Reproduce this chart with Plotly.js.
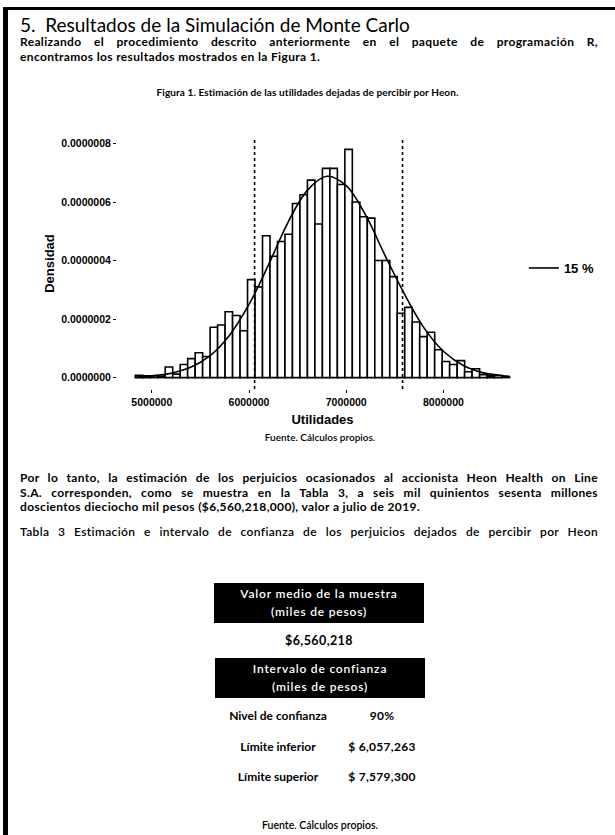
<!DOCTYPE html>
<html>
<head>
<meta charset="utf-8">
<script src="https://cdn.plot.ly/plotly-3.0.1.min.js"></script>
<style>
  body { margin: 0; background: #fff; }
  #page { position: relative; width: 615px; height: 835px; overflow: hidden; background: #fff;
          font-family: Lato, "Open Sans", "DejaVu Sans", sans-serif; color: #000; }
  .abs { position: absolute; }
  .jline { position: absolute; left: 20px; width: 578px; font-size: 12px; font-weight: 700; letter-spacing: 0.35px;
           line-height: 14px; height: 14px; text-align: justify; text-align-last: justify; white-space: nowrap; }
  .lastline { text-align-last: left; }
  .center { text-align: center; }
  .box { position: absolute; background: #000; color: #fff; text-align: center; font-size: 12px;
         letter-spacing: 0.8px; line-height: 18px; padding-top: 2px; box-sizing: border-box; font-weight: 600; }
  .row { position: absolute; font-size: 12px; font-weight: 700; line-height: 14px; height: 14px; text-align: center; white-space: nowrap; }
  #chart { position: absolute; left: 0; top: 100px; width: 615px; height: 350px; }
</style>
</head>
<body>
<div id="page">
  <div class="abs" style="left:3px;top:7px;width:612px;height:3px;background:#000"></div>
  <div class="abs" style="left:3px;top:7px;width:5px;height:828px;background:#000"></div>

  <div class="abs" style="left:20px;top:14px;font-size:19px;line-height:22px;">5.&nbsp; Resultados de la Simulación de Monte Carlo</div>
  <div class="jline" style="top:35px">Realizando el procedimiento descrito anteriormente en el paquete de programación R,</div>
  <div class="jline lastline" style="top:50px">encontramos los resultados mostrados en la Figura 1.</div>

  <div class="abs center" style="left:0;width:615px;top:86px;font-size:10px;font-weight:700;line-height:12px;letter-spacing:0.1px;">Figura 1. Estimación de las utilidades dejadas de percibir por Heon.</div>

  <div id="chart"></div>

  <div class="abs center" style="left:20px;width:600px;top:431px;font-size:10px;font-weight:600;line-height:12px;">Fuente. Cálculos propios.</div>

  <div class="jline" style="top:471px">Por lo tanto, la estimación de los perjuicios ocasionados al accionista Heon Health on Line</div>
  <div class="jline" style="top:486px">S.A. corresponden, como se muestra en la Tabla 3, a seis mil quinientos sesenta millones</div>
  <div class="jline lastline" style="top:500px">doscientos dieciocho mil pesos ($6,560,218,000), valor a julio de 2019.</div>

  <div class="jline" style="top:525px;font-weight:600;">Tabla 3 Estimación e intervalo de confianza de los perjuicios dejados de percibir por Heon</div>

  <div id="table"></div>
</div>

<script>
// ---------- chart data ----------
const binFirstCenter = 4868500;   // centre of first histogram bin
const binWidth = 77000;           // histogram bin width
const densities = [
  0.08e-7, 0.06e-7, 0.02e-7, 0.05e-7, 0.36e-7, 0.12e-7, 0.45e-7, 0.65e-7, 0.85e-7, 0.72e-7,
  1.72e-7, 1.80e-7, 2.25e-7, 2.12e-7, 1.60e-7, 3.35e-7, 3.10e-7, 4.85e-7, 4.15e-7, 4.65e-7,
  4.90e-7, 5.95e-7, 6.25e-7, 6.75e-7, 5.25e-7, 7.15e-7, 7.15e-7, 6.60e-7, 7.80e-7, 6.00e-7,
  5.50e-7, 5.45e-7, 4.00e-7, 4.00e-7, 3.45e-7, 2.20e-7, 2.40e-7, 1.90e-7, 1.40e-7, 1.55e-7,
  0.95e-7, 0.55e-7, 0.45e-7, 0.58e-7, 0.20e-7, 0.30e-7, 0.10e-7, 0.06e-7, 0.07e-7, 0.03e-7
];
const curveX = [4830000, 5000000, 5200000, 5400000, 5600000, 5800000, 6000000, 6200000, 6400000, 6600000,
                6800000, 7000000, 7200000, 7400000, 7600000, 7800000, 8000000, 8200000, 8400000, 8600000, 8680000];
const curveY = [0.02e-7, 0.06e-7, 0.15e-7, 0.35e-7, 0.75e-7, 1.45e-7, 2.50e-7, 3.85e-7, 5.30e-7, 6.40e-7,
                6.88e-7, 6.56e-7, 5.55e-7, 4.17e-7, 2.85e-7, 1.70e-7, 0.90e-7, 0.42e-7, 0.17e-7, 0.07e-7, 0.04e-7];
const curveName = "15 %";
const intervalBounds = [6057263, 7579300];
const xTickVals = [5000000, 6000000, 7000000, 8000000];
const xTickText = ["5000000", "6000000", "7000000", "8000000"];
const yTickVals = [0, 2e-7, 4e-7, 6e-7, 8e-7];
const yTickText = ["0.0000000", "0.0000002", "0.0000004", "0.0000006", "0.0000008"];

// ---------- table data ----------
const tableHeader1 = ["Valor medio de la muestra", "(miles de pesos)"];
const tableMean = "$6,560,218";
const tableHeader2 = ["Intervalo de confianza", "(miles de pesos)"];
const tableRowLabels = ["Nivel de confianza", "Límite inferior", "Límite superior"];
const tableRowValues = ["90%", "$ 6,057,263", "$ 7,579,300"];
const tableSource = "Fuente. Cálculos propios.";

const tickFont = { family: "Liberation Sans, Arial, sans-serif", size: 10.5, color: "#000", weight: "bold" };

const traces = [
  {
    type: "bar", x0: binFirstCenter, dx: binWidth, y: densities,
    marker: { color: "#fff", line: { color: "#000", width: 1.6 } },
    showlegend: false, hoverinfo: "skip"
  },
  {
    type: "scatter", mode: "lines", x: curveX, y: curveY, name: curveName,
    line: { color: "#000", width: 1.6, shape: "spline" }, showlegend: true
  }
];

const layout = {
  width: 615, height: 350,
  margin: { l: 117, r: 87, t: 38, b: 61 },
  paper_bgcolor: "rgba(0,0,0,0)", plot_bgcolor: "rgba(0,0,0,0)",
  bargap: 0,
  showlegend: true,
  legend: { x: 0.99, xanchor: "left", y: 0.482, yanchor: "middle",
            font: { family: "Liberation Sans, Arial, sans-serif", size: 13, color: "#000", weight: "bold" },
            bgcolor: "rgba(0,0,0,0)" },
  xaxis: {
    range: [4642000, 8870000], showgrid: false, zeroline: false, showline: false,
    tickmode: "array", tickvals: xTickVals, ticktext: xTickText,
    ticks: "outside", ticklen: 3, tickcolor: "#000", tickfont: tickFont,
    title: { text: "Utilidades", standoff: 8,
             font: { family: "Liberation Sans, Arial, sans-serif", size: 13, color: "#000", weight: "bold" } }
  },
  yaxis: {
    range: [-0.39e-7, 8.19e-7], showgrid: false, zeroline: false, showline: false,
    tickmode: "array", tickvals: yTickVals, ticktext: yTickText,
    ticks: "outside", ticklen: 3, tickcolor: "#000", tickfont: tickFont,
    title: { text: "Densidad", standoff: 3,
             font: { family: "Liberation Sans, Arial, sans-serif", size: 13, color: "#000", weight: "bold" } }
  },
  shapes: intervalBounds.map(v => ({
    type: "line", xref: "x", yref: "paper", x0: v, x1: v, y0: 0, y1: 1,
    line: { color: "#000", width: 1.6, dash: "dot" }
  }))
};

Plotly.newPlot("chart", traces, layout, { displayModeBar: false, staticPlot: true });

// ---------- table ----------
const t = document.getElementById("table");
function add(html, style, cls) {
  const d = document.createElement("div");
  d.className = cls; d.innerHTML = html; d.setAttribute("style", style); t.appendChild(d);
}
add(tableHeader1.join("<br>"), "left:214px;top:583px;width:210px;height:40px;", "box");
add(tableMean, "left:214px;top:634px;width:210px;font-size:12.5px;letter-spacing:0.4px;", "row");
add(tableHeader2.join("<br>"), "left:215px;top:658px;width:210px;height:40px;", "box");
const rowTops = [709, 740, 770];
tableRowLabels.forEach((lab, i) => {
  add(lab, "left:213px;top:" + rowTops[i] + "px;width:130px;", "row");
  add(tableRowValues[i], "left:340px;top:" + rowTops[i] + "px;width:84px;letter-spacing:0.3px;", "row");
});
add(tableSource, "left:200px;top:818px;width:240px;font-size:10.5px;font-weight:600;", "row");
</script>
</body>
</html>
